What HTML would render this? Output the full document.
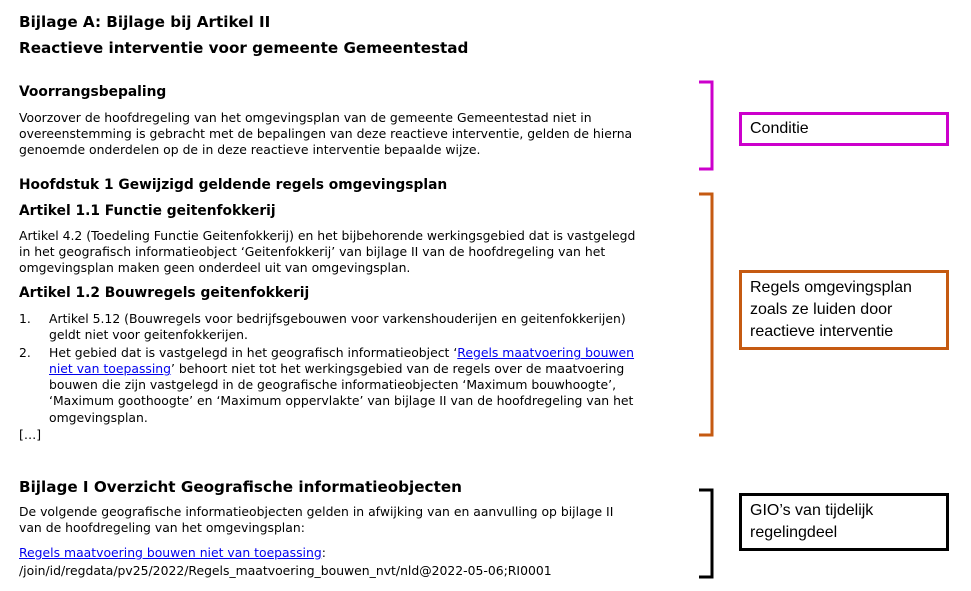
<!DOCTYPE html>
<html><head><meta charset="utf-8"><style>
body{margin:0;width:971px;height:591px;background:#fff;position:relative;overflow:hidden;font-family:"DejaVu Sans",sans-serif;color:#000}
.l{position:absolute;left:19px;white-space:nowrap;font-size:12.4px;line-height:16px}
.h{font-weight:bold;font-size:13.8px}
.t{font-weight:bold;font-size:15.2px;line-height:20px}
.i{left:49px}
a{color:#0000ee;text-decoration:underline}
.box{position:absolute;border:3px solid;font-family:"Liberation Sans",Carlito,sans-serif;font-size:16px;line-height:22px;padding:0 0 0 8px;box-sizing:border-box}
</style></head><body>
<div class="l t" style="top:12px">Bijlage A: Bijlage bij Artikel II</div>
<div class="l t" style="top:38px">Reactieve interventie voor gemeente Gemeentestad</div>
<div class="l h" style="top:84px">Voorrangsbepaling</div>
<div class="l" style="top:110px">Voorzover de hoofdregeling van het omgevingsplan van de gemeente Gemeentestad niet in</div>
<div class="l" style="top:126px">overeenstemming is gebracht met de bepalingen van deze reactieve interventie, gelden de hierna</div>
<div class="l" style="top:142px">genoemde onderdelen op de in deze reactieve interventie bepaalde wijze.</div>
<div class="l h" style="top:177px">Hoofdstuk 1 Gewijzigd geldende regels omgevingsplan</div>
<div class="l h" style="top:203px">Artikel 1.1 Functie geitenfokkerij</div>
<div class="l" style="top:228px">Artikel 4.2 (Toedeling Functie Geitenfokkerij) en het bijbehorende werkingsgebied dat is vastgelegd</div>
<div class="l" style="top:244px">in het geografisch informatieobject ‘Geitenfokkerij’ van bijlage II van de hoofdregeling van het</div>
<div class="l" style="top:260px">omgevingsplan maken geen onderdeel uit van omgevingsplan.</div>
<div class="l h" style="top:285px">Artikel 1.2 Bouwregels geitenfokkerij</div>
<div class="l" style="top:311px">1.</div>
<div class="l i" style="top:311px">Artikel 5.12 (Bouwregels voor bedrijfsgebouwen voor varkenshouderijen en geitenfokkerijen)</div>
<div class="l i" style="top:327px">geldt niet voor geitenfokkerijen.</div>
<div class="l" style="top:345px">2.</div>
<div class="l i" style="top:345px">Het gebied dat is vastgelegd in het geografisch informatieobject ‘<a>Regels maatvoering bouwen</a></div>
<div class="l i" style="top:361px"><a>niet van toepassing</a>’ behoort niet tot het werkingsgebied van de regels over de maatvoering</div>
<div class="l i" style="top:377px">bouwen die zijn vastgelegd in de geografische informatieobjecten ‘Maximum bouwhoogte’,</div>
<div class="l i" style="top:393px">‘Maximum goothoogte’ en ‘Maximum oppervlakte’ van bijlage II van de hoofdregeling van het</div>
<div class="l i" style="top:410px">omgevingsplan.</div>
<div class="l" style="top:427px">[…]</div>
<div class="l t" style="top:477px">Bijlage I Overzicht Geografische informatieobjecten</div>
<div class="l" style="top:504px">De volgende geografische informatieobjecten gelden in afwijking van en aanvulling op bijlage II</div>
<div class="l" style="top:520px">van de hoofdregeling van het omgevingsplan:</div>
<div class="l" style="top:545px"><a>Regels maatvoering bouwen niet van toepassing</a>:</div>
<div class="l" style="top:563px">/join/id/regdata/pv25/2022/Regels_maatvoering_bouwen_nvt/nld@2022-05-06;RI0001</div>
<svg style="position:absolute;left:0;top:0" width="971" height="591">
<path d="M699 82 H712 V169 H699" fill="none" stroke="#cc00cc" stroke-width="3"/>
<path d="M699 194 H712 V435 H699" fill="none" stroke="#c55a11" stroke-width="3"/>
<path d="M699 490 H712 V577 H699" fill="none" stroke="#000" stroke-width="3"/>
</svg>
<div class="box" style="left:739px;top:112px;width:210px;height:34px;border-color:#cc00cc;padding-top:3px">Conditie</div>
<div class="box" style="left:739px;top:270px;width:210px;height:80px;border-color:#c55a11;padding-top:4px">Regels omgevingsplan<br>zoals ze luiden door<br>reactieve interventie</div>
<div class="box" style="left:739px;top:493px;width:210px;height:58px;border-color:#000;padding-top:4px">GIO’s van tijdelijk<br>regelingdeel</div>
</body></html>
